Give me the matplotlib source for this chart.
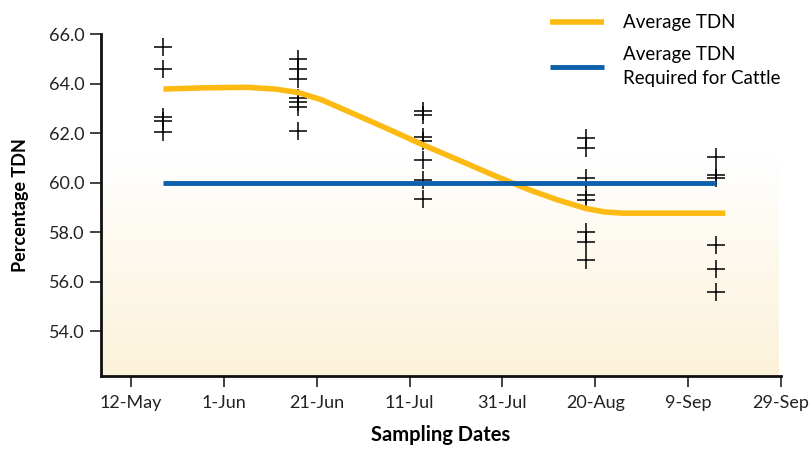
import numpy as np
import matplotlib
matplotlib.use('Agg')
import matplotlib.pyplot as plt
import matplotlib.dates as mdates
from datetime import datetime

# Fechas de muestreo y valores de TDN
sample_dates = ['2010-05-19', '2010-06-17', '2010-07-14', '2010-08-18', '2010-09-15']
tdn_values = [
    [65.47, 64.6, 62.66, 62.5, 62.05],
    [65.0, 64.57, 64.2, 63.4, 63.27, 63.04, 62.1],
    [62.9, 62.75, 61.85, 61.7, 60.9, 60.1, 59.35],
    [61.8, 61.4, 60.2, 59.5, 59.3, 58.0, 57.6, 56.9],
    [61.05, 60.3, 60.2, 57.5, 56.5, 55.6],
]

# Curva suavizada del promedio
avg_dates = ['2010-05-19', '2010-05-28', '2010-06-06', '2010-06-12', '2010-06-17',
             '2010-06-22', '2010-06-28', '2010-07-06', '2010-07-14', '2010-07-22',
             '2010-07-30', '2010-08-06', '2010-08-12', '2010-08-18', '2010-08-22',
             '2010-08-26', '2010-09-17']
avg_values = [63.78, 63.83, 63.85, 63.78, 63.64, 63.35, 62.86, 62.2, 61.52, 60.88,
              60.23, 59.7, 59.3, 58.96, 58.82, 58.77, 58.77]

required_dates = ['2010-05-19', '2010-09-15']
required_values = [60.0, 60.0]

tick_dates = ['2010-05-12', '2010-06-01', '2010-06-21', '2010-07-11',
              '2010-07-31', '2010-08-20', '2010-09-09', '2010-09-29']
tick_labels = ['12-May', '1-Jun', '21-Jun', '11-Jul', '31-Jul', '20-Aug', '9-Sep', '29-Sep']
y_ticks = [54, 56, 58, 60, 62, 64, 66]

to_num = lambda ds: mdates.date2num([datetime.strptime(d, '%Y-%m-%d') for d in ds])

plt.rcParams['font.family'] = ['Lato', 'DejaVu Sans']

fig = plt.figure(figsize=(8.11, 4.5), dpi=100)
ax = fig.add_axes([0.1245, 0.1644, 0.8385, 0.76])

# Fondo degradado
grad = np.ones((100, 1, 3))
t = np.clip((np.linspace(0, 1, 100) - 0.35) / 0.65, 0, 1)
bottom = np.array([252, 242, 217]) / 255.0
for i in range(100):
    grad[i, 0, :] = (1 - t[i]) * np.array([1.0, 1.0, 1.0]) + t[i] * bottom
ax.imshow(grad, extent=[0, 0.996, 0, 1], transform=ax.transAxes, aspect='auto',
          origin='upper', zorder=0)

for d, vals in zip(sample_dates, tdn_values):
    x = to_num([d] * len(vals))
    ax.plot(x, vals, linestyle='none', marker='+', markersize=13, markeredgewidth=1.1,
            color='black', zorder=3)

ax.plot(to_num(avg_dates), avg_values, color='#FDBA12', lw=4.0, solid_capstyle='butt',
        label='Average TDN', zorder=4)
ax.plot(to_num(required_dates), required_values, color='#0B5FAB', lw=3.5,
        solid_capstyle='butt', label='Average TDN\nRequired for Cattle', zorder=4)

x0 = to_num(['2010-05-12'])[0]
ax.set_xlim(x0 - 6.45, to_num(['2010-09-29'])[0])
ax.set_ylim(52.2, 66.0)
ax.set_xticks(to_num(tick_dates))
ax.set_xticklabels(tick_labels)
ax.set_yticks(y_ticks)
ax.set_yticklabels(['%.1f' % v for v in y_ticks])
ax.tick_params(axis='both', direction='out', length=8, width=1.2, labelsize=13,
               colors='#222222', pad=6)
ax.tick_params(axis='y', pad=4)

for s in ['top', 'right']:
    ax.spines[s].set_visible(False)
for s in ['left', 'bottom']:
    ax.spines[s].set_linewidth(2)
    ax.spines[s].set_color('#111111')

ax.set_xlabel('Sampling Dates', fontsize=14.5, fontweight='bold', labelpad=10)
ax.set_ylabel('Percentage TDN', fontsize=13, fontweight='bold', labelpad=14)

leg = ax.legend(loc='upper left', bbox_to_anchor=(0.662, 0.997), bbox_transform=fig.transFigure,
                frameon=False, fontsize=13.5, handlelength=2.9, handletextpad=1.0,
                labelspacing=0.8, borderaxespad=0.3)
for txt in leg.get_texts():
    txt.set_linespacing(1.45)

fig.savefig('out.png', dpi=100)
